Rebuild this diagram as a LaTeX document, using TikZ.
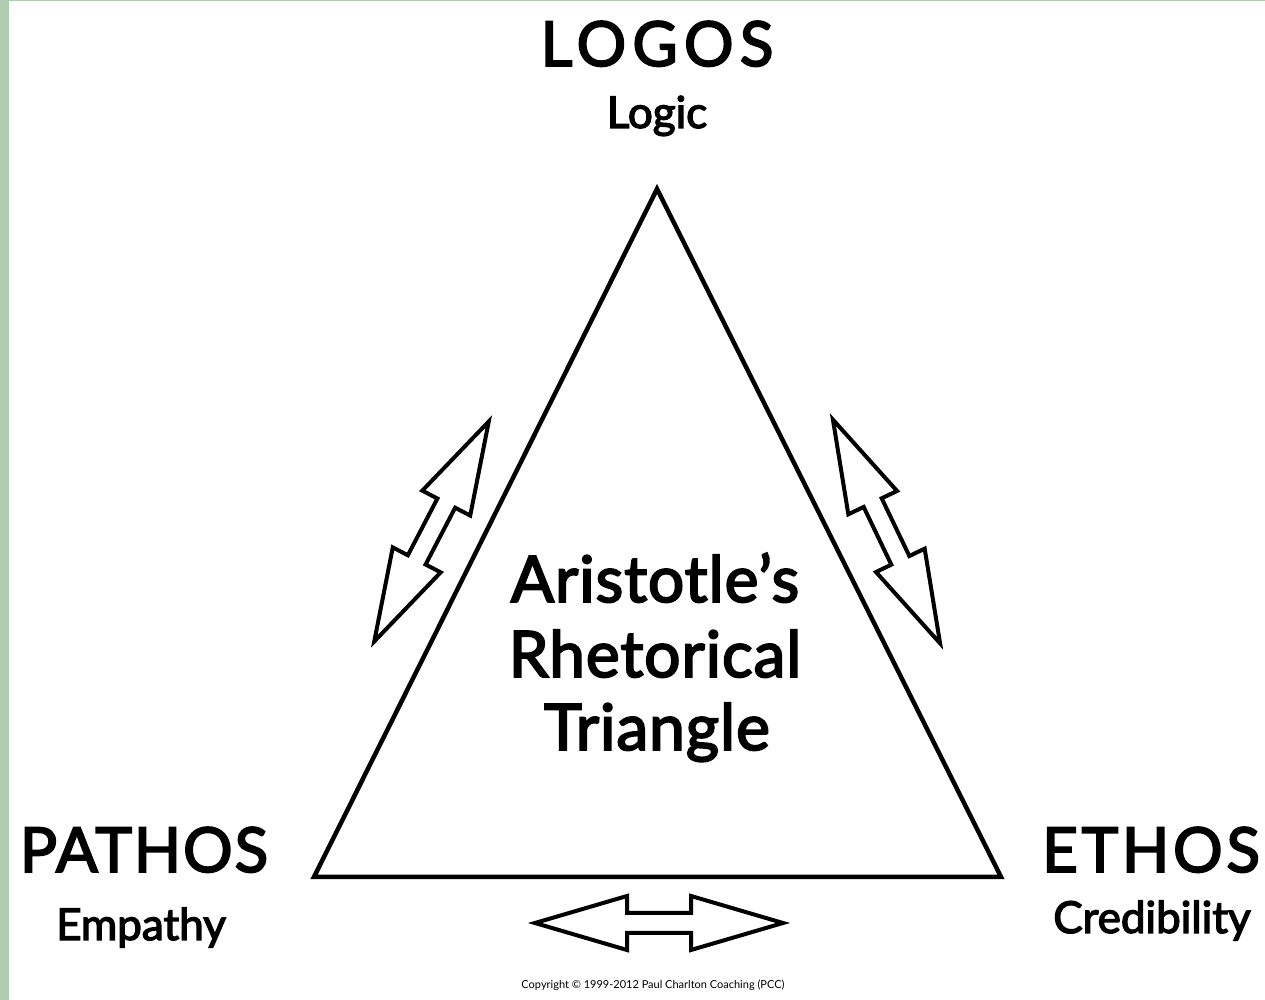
\documentclass[tikz,border=0pt]{standalone}
\usepackage{fontspec}
\setmainfont{Lato}
\newfontfamily\medfont{Lato}[FakeBold=3]
\newfontfamily\titlefont{Lato}[FakeBold=3,LetterSpace=1.5]
\definecolor{framegreen}{HTML}{AFCBB0}
\begin{document}
\begin{tikzpicture}[x=1pt,y=1pt,
  bigword/.style={anchor=base,inner sep=0pt,font=\medfont\fontsize{62}{70}\selectfont},
  subword/.style={anchor=base,inner sep=0pt,font=\medfont\fontsize{44}{52}\selectfont},
  titleword/.style={anchor=base,inner sep=0pt,font=\titlefont\fontsize{64}{72}\selectfont},
  triline/.style={draw=black,line width=4.5pt,line join=miter},
  dblarrow/.style={draw=black,fill=white,line width=4pt,line join=miter}]
\useasboundingbox (0,0) rectangle (1265,1000);
\fill[white] (0,0) rectangle (1265,1000);
\fill[framegreen] (0,0) rectangle (9,1000);
\fill[framegreen] (0,998.5) rectangle (1265,1000);

% triangle
\coordinate (apex) at (657,811);
\coordinate (bl) at (314,123);
\coordinate (br) at (1001,123);
\draw[triline] (apex) -- (bl) -- (br) -- cycle;

% double arrows
\def\dblarrowpath{(124,0) -- (32,27) -- (32,10) -- (-32,10) -- (-32,27) -- (-124,0) -- (-32,-27) -- (-32,-10) -- (32,-10) -- (32,-27) -- cycle}
\draw[dblarrow,shift={(659,77)}] \dblarrowpath;
\draw[dblarrow,shift={(431.5,468.5)},rotate=62.5] \dblarrowpath;
\draw[dblarrow,shift={(886.5,468.5)},rotate=115.6] \dblarrowpath;

% labels
\node[bigword] (logos) at (657,934) {\addfontfeatures{LetterSpace=10}LOGOS};
\node[subword] (logic) at (657,872) {Logic};
\node[bigword] (pathos) at (144,128) {\addfontfeatures{LetterSpace=3}PATHOS};
\node[subword] (empathy) at (141,60) {Empathy};
\node[bigword] (ethos) at (1151,128) {\addfontfeatures{LetterSpace=6}ETHOS};
\node[subword] (cred) at (1152,67) {Credibility};
\node[titleword] (t1) at (655,398) {Aristotle’s};
\node[titleword] (t2) at (655,323) {Rhetorical};
\node[titleword] (t3) at (657,250) {Triangle};
\node[anchor=base,inner sep=0pt,font=\fontsize{11}{13}\selectfont] (copy) at (653,11) {Copyright © 1999-2012 Paul Charlton Coaching (PCC)};
\end{tikzpicture}
\end{document}
